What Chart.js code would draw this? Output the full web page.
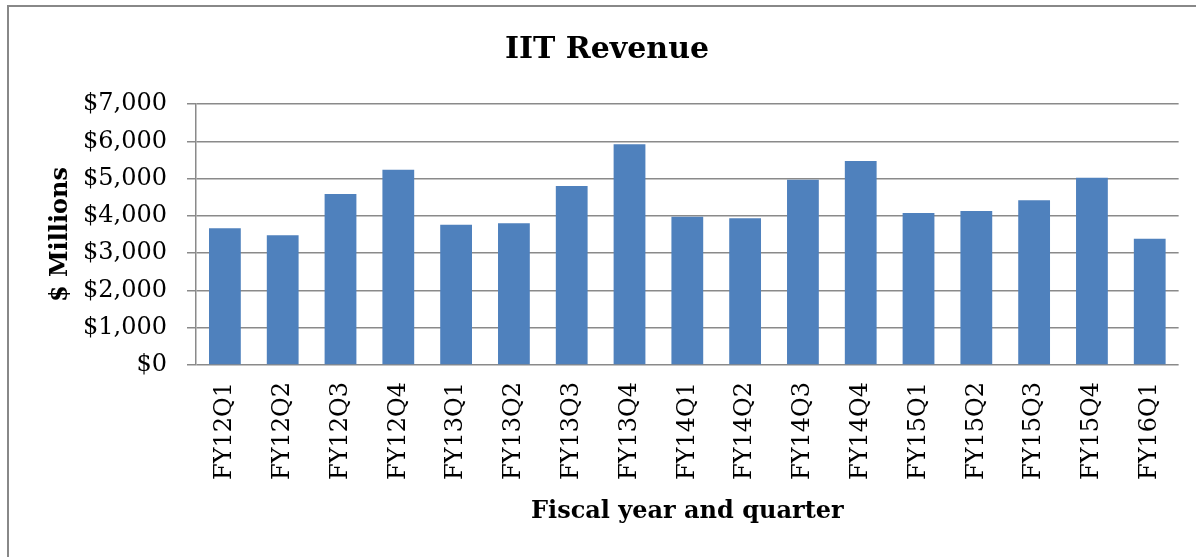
<!DOCTYPE html>
<html>
<head>
<meta charset="utf-8">
<script src="https://cdn.jsdelivr.net/npm/chart.js@4/dist/chart.umd.min.js"></script>
<style>
  html, body { margin: 0; padding: 0; background: #fff; }
  #wrap { width: 1196px; height: 557px; position: relative; }
</style>
</head>
<body>
<div id="wrap"><canvas id="revChart" width="1196" height="557"></canvas></div>
<script>
// quarters on the x axis
const quarters = ['FY12Q1', 'FY12Q2', 'FY12Q3', 'FY12Q4', 'FY13Q1', 'FY13Q2', 'FY13Q3', 'FY13Q4',
  'FY14Q1', 'FY14Q2', 'FY14Q3', 'FY14Q4', 'FY15Q1', 'FY15Q2', 'FY15Q3', 'FY15Q4', 'FY16Q1'];

// revenue, $ millions
const revenue = [3665, 3478, 4586, 5239, 3764, 3800, 4800, 5918,
  3978, 3933, 4970, 5471, 4077, 4130, 4416, 5024, 3388];

const yMin = 0;
const yMax = 7000;
const yStep = 1000;

const serif = "'DejaVu Serif', 'Liberation Serif', serif";

// grey frame round the whole chart, like the Excel chart border
const framePlugin = {
  id: 'frame',
  beforeDraw(chart) {
    const c = chart.ctx;
    c.save();
    c.fillStyle = '#fff';
    c.fillRect(0, 0, chart.width, chart.height);
    c.strokeStyle = '#888';
    c.lineWidth = 2;
    c.strokeRect(8, 6, chart.width + 10, chart.height + 10);
    c.restore();
  }
};

const ctx = document.getElementById('revChart').getContext('2d');
const revChart = new Chart(ctx, {
  type: 'bar',
  data: {
    labels: quarters,
    datasets: [{
      label: 'IIT Revenue',
      data: revenue,
      backgroundColor: '#4F81BD',
      borderColor: '#4F81BD',
      borderWidth: 0,
      categoryPercentage: 1,
      barPercentage: 0.55
    }]
  },
  plugins: [framePlugin],
  options: {
    responsive: false,
    animation: false,
    // left padding so the title centres where Excel put it
    layout: { padding: { left: 34, right: 16, top: 0, bottom: 0 } },
    plugins: {
      legend: { display: false },
      tooltip: { enabled: false },
      title: {
        display: true,
        text: 'IIT Revenue',
        color: '#000',
        font: { family: serif, size: 30, weight: 'bold' },
        padding: { top: 32, bottom: 36 }
      }
    },
    scales: {
      x: {
        grid: { display: false, drawTicks: false },
        border: { display: false },
        ticks: {
          color: '#000',
          font: { family: serif, size: 24 },
          minRotation: 90,
          maxRotation: 90,
          autoSkip: false,
          padding: 17
        },
        title: {
          display: true,
          text: 'Fiscal year and quarter',
          color: '#000',
          font: { family: serif, size: 24, weight: 'bold' },
          padding: { top: 0, bottom: 31 }
        },
        afterFit(scale) { scale.height = 192; }
      },
      y: {
        min: yMin,
        max: yMax,
        grid: { color: '#8a8a8a', lineWidth: 1.5, tickLength: 9 },
        border: { display: true, color: '#8a8a8a', width: 1.5 },
        ticks: {
          stepSize: yStep,
          color: '#000',
          font: { family: serif, size: 24 },
          padding: 20,
          callback: v => '$' + v.toLocaleString('en-US')
        },
        title: {
          display: true,
          text: '$ Millions',
          color: '#000',
          font: { family: serif, size: 24, weight: 'bold' },
          padding: { top: 12, bottom: 0 }
        },
        afterFit(scale) { scale.width = 162; }
      }
    }
  }
});
</script>
</body>
</html>
